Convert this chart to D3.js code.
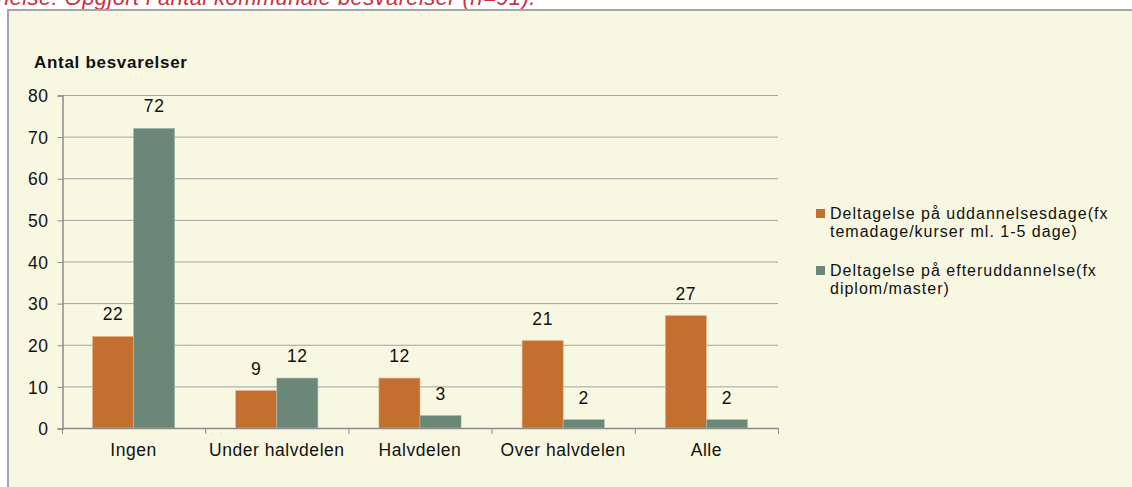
<!DOCTYPE html>
<html><head><meta charset="utf-8">
<script src="https://cdn.jsdelivr.net/npm/d3@7"></script>
<style>
html,body{margin:0;padding:0;background:#fff;}
svg{display:block;font-family:"Liberation Sans",Arial,sans-serif;}
</style></head>
<body>
<svg id="chart" width="1132" height="487"></svg>
<script>
const categories = ["Ingen","Under halvdelen","Halvdelen","Over halvdelen","Alle"];
const seriesNames = ["Deltagelse på uddannelsesdage(fx temadage/kurser ml. 1-5 dage)","Deltagelse på efteruddannelse(fx diplom/master)"];
const legendLines = [["Deltagelse på uddannelsesdage(fx","temadage/kurser ml. 1-5 dage)"],["Deltagelse på efteruddannelse(fx","diplom/master)"]];
const uddannelsesdage = [22,9,12,21,27];
const efteruddannelse = [72,12,3,2,2];
const yTicks = [0,10,20,30,40,50,60,70,80];
const colors = ["#c26f30","#6b8778"];
const caption = "nelse: Opgjort i antal kommunale besvarelser (n=91).";
const yTitle = "Antal besvarelser";

const svg = d3.select("#chart");
const FS = 17.5, LS = "0.55px";

// caption (clipped at top, as in the source)
svg.append("text").attr("x",-3).attr("y",5).attr("fill","#c8323c")
  .attr("font-style","italic").attr("font-size",22).attr("letter-spacing","0.4px").text(caption);

// frame
svg.append("rect").attr("x",8).attr("y",10).attr("width",1132).attr("height",490)
  .attr("fill","#f8f7e1").attr("stroke","#a6a6a6").attr("stroke-width",2);

const x0 = d3.scaleBand().domain(categories).range([62,778]).paddingInner(0.426).paddingOuter(0.213);
const x1 = d3.scaleBand().domain([0,1]).range([0,x0.bandwidth()]);
const y = d3.scaleLinear().domain([0,80]).range([428,95]);

// gridlines
svg.append("g").selectAll("line").data(yTicks.filter(d=>d>0)).join("line")
  .attr("x1",62).attr("x2",778).attr("y1",d=>y(d)+0.5).attr("y2",d=>y(d)+0.5)
  .attr("stroke","#a3a3a3").attr("stroke-width",1);

// y axis
const yAxis = svg.append("g").attr("transform","translate(62.5,0.5)")
  .call(d3.axisLeft(y).tickValues(yTicks).tickSize(5).tickPadding(9).tickFormat(d3.format("d")));
yAxis.select(".domain").attr("stroke","#8c8c8c").attr("stroke-width",1.5);
yAxis.selectAll(".tick line").attr("stroke","#8c8c8c");
yAxis.selectAll(".tick text").attr("font-size",FS).attr("fill","#111").attr("font-family","Liberation Sans, Arial, sans-serif").attr("letter-spacing",LS).attr("dy","0.35em");

// bars
const series = [uddannelsesdage, efteruddannelse];
series.forEach((vals,si)=>{
  const g = svg.append("g");
  g.selectAll("rect").data(vals).join("rect")
    .attr("x",(d,i)=>x0(categories[i])+x1(si))
    .attr("y",d=>y(d)).attr("width",x1.bandwidth()).attr("height",d=>y(0)-y(d))
    .attr("fill",colors[si]).attr("stroke", si===0?"#e8b58a":"#a9bcb0").attr("stroke-width",0.6);
  g.selectAll("text").data(vals).join("text")
    .attr("x",(d,i)=>x0(categories[i])+x1(si)+x1.bandwidth()/2)
    .attr("y",d=>y(d)-16).attr("text-anchor","middle").attr("font-size",FS).attr("letter-spacing",LS)
    .attr("fill","#111").text(d=>d);
});

// x axis
const xAxisScale = d3.scalePoint().domain(d3.range(categories.length+1)).range([62,778]);
svg.append("line").attr("x1",62).attr("x2",778).attr("y1",428.5).attr("y2",428.5).attr("stroke","#8c8c8c").attr("stroke-width",1.5);
svg.append("g").selectAll("line").data(d3.range(categories.length+1)).join("line")
  .attr("x1",d=>xAxisScale(d)+0.5).attr("x2",d=>xAxisScale(d)+0.5).attr("y1",428).attr("y2",434).attr("stroke","#8c8c8c");
svg.append("g").selectAll("text").data(categories).join("text")
  .attr("x",d=>x0(d)+x0.bandwidth()/2).attr("y",456).attr("text-anchor","middle")
  .attr("font-size",FS).attr("letter-spacing",LS).attr("fill","#111").text(d=>d);

// y title
svg.append("text").attr("x",34).attr("y",68).attr("font-weight","bold").attr("font-size",17).attr("letter-spacing","0.7px").attr("fill","#111").text(yTitle);

// legend
const leg = svg.append("g");
const legY = [209,266];
seriesNames.forEach((s,i)=>{
  leg.append("rect").attr("x",816).attr("y",legY[i]).attr("width",9).attr("height",9).attr("fill",colors[i]);
  const t = leg.append("text").attr("x",830).attr("y",legY[i]+10).attr("font-size",16).attr("letter-spacing","1px").attr("fill","#111");
  legendLines[i].forEach((ln,j)=>t.append("tspan").attr("x",830).attr("dy",j===0?0:18).text(ln));
});
</script>
</body></html>
